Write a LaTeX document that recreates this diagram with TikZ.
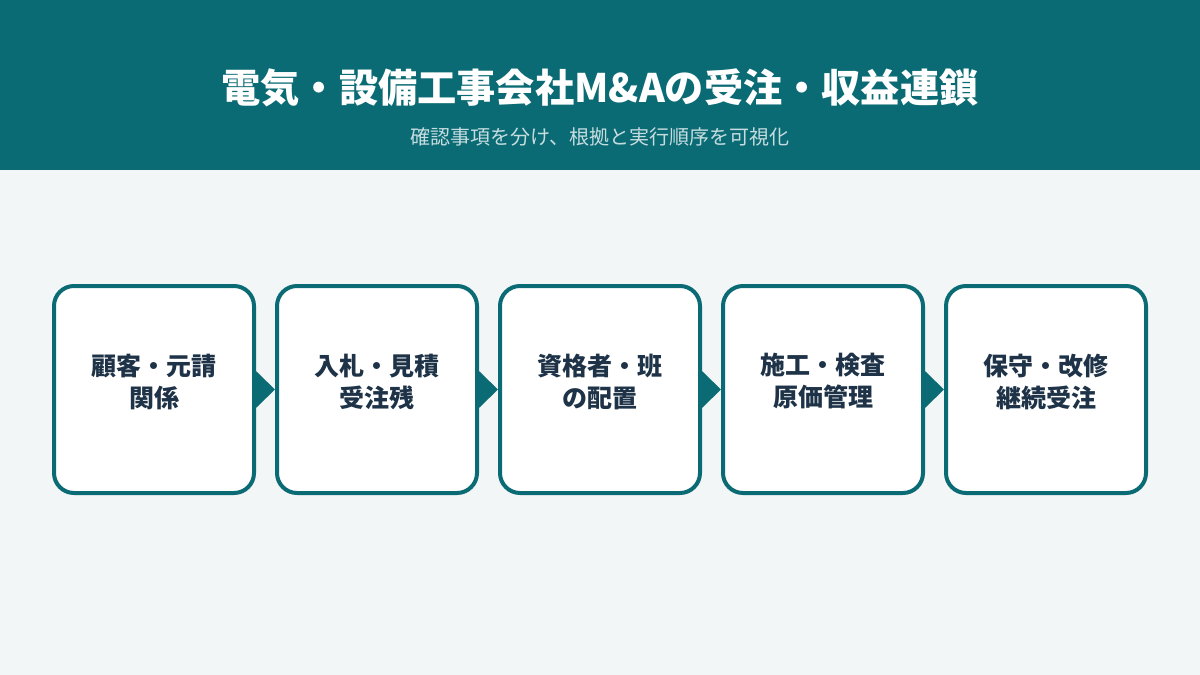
\documentclass[tikz,border=0pt]{standalone}
\usepackage{fontspec}
\setmainfont{Noto Sans CJK JP}
\usetikzlibrary{positioning,arrows.meta}
\definecolor{tealhd}{HTML}{0B6B74}
\definecolor{bgpale}{HTML}{F3F6F7}
\definecolor{navytx}{HTML}{1E3348}
\definecolor{subtx}{HTML}{C6DDE0}
\tikzset{
  stage/.style={draw=tealhd,line width=2pt,fill=white,rounded corners=10pt,
    minimum width=100pt,minimum height=103.5pt},
  stagetxt/.style={align=center,font=\fontsize{12.5}{16}\selectfont\bfseries,text=navytx},
  flow/.style={draw=tealhd,line width=2pt,-{Triangle[length=9.5pt,width=18pt]},tealhd}
}
\begin{document}
\begin{tikzpicture}[line cap=round,line join=round,x=0.5pt,y=-0.5pt]
    % background and header band
    \fill[bgpale] (0,0) rectangle (1200,675);
    \fill[tealhd] (0,0) rectangle (1200,170);
    \useasboundingbox (0,0) rectangle (1200,675);
    \node[text=white,font=\fontsize{19.6}{22}\selectfont\bfseries] (title) at (600,88) {電気・設備工事会社M\&Aの受注・収益連鎖};
    \node[text=subtx,font=\fontsize{10}{12}\selectfont] (subtitle) at (600,137) {確認事項を分け、根拠と実行順序を可視化};
    % stages
    \node[stage] (client) at (154,389.5) {};
    \node[stage,right=9.5pt of client] (bid) {};
    \node[stage,right=9.5pt of bid] (staff) {};
    \node[stage,right=9.5pt of staff] (build) {};
    \node[stage,right=9.5pt of build] (keep) {};
    \foreach \s/\t in {client/{顧客・元請\\関係},bid/{入札・見積\\受注残},staff/{資格者・班\\の配置},build/{施工・検査\\原価管理},keep/{保守・改修\\継続受注}}
        \node[stagetxt] (\s-txt) at ([yshift=4pt]\s.center) {\t};
    \foreach \a/\b in {client/bid,bid/staff,staff/build,build/keep}
        \draw[flow] (\a) -- (\b);
\end{tikzpicture}
\end{document}
